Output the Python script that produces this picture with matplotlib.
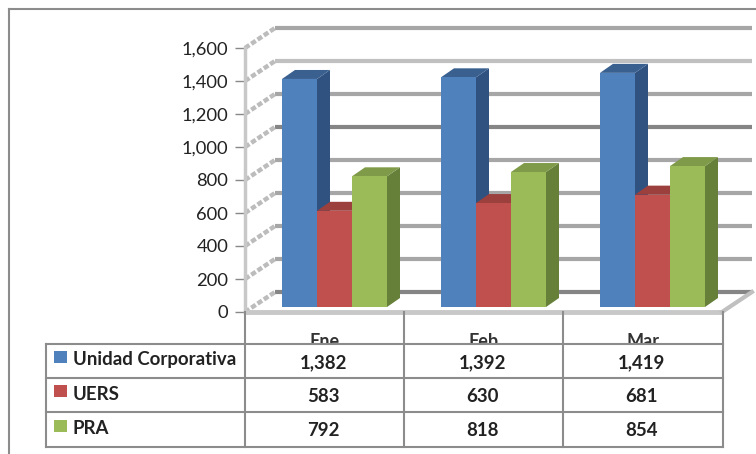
import matplotlib
matplotlib.use("Agg")
import matplotlib.pyplot as plt
from matplotlib.patches import Polygon, Rectangle

plt.rcParams['font.family'] = ['Lato', 'DejaVu Sans']

months = ["Ene", "Feb", "Mar"]
series_names = ["Unidad Corporativa", "UERS", "PRA"]
corporativa = [1382, 1392, 1419]
uers = [583, 630, 681]
pra = [792, 818, 854]
y_ticks = [0, 200, 400, 600, 800, 1000, 1200, 1400, 1600]
table_rows = [corporativa, uers, pra]

front = ["#4f81bd", "#c0504d", "#9bbb59"]
top = ["#3a6090", "#9c403e", "#7f9a48"]
side = ["#2f5280", "#8a3836", "#66803a"]
grid_cols = ["#858585", "#a6a6a6", "#a6a6a6", "#a6a6a6", "#a6a6a6", "#858585", "#a6a6a6", "#c0c0c0", "#a6a6a6"]

W, H = 756, 454
AX_L, AX_R, AX_T, AX_B = 245, 722, 48, 312
px_x = (AX_R - AX_L) / 3
px_y = (AX_B - AX_T) / 1600


def dx(p):
    return p / px_x


def dy(p):
    return p / px_y


fig = plt.figure(figsize=(W / 100, H / 100), dpi=100)
ax = fig.add_axes([AX_L / W, 1 - AX_B / H, (AX_R - AX_L) / W, (AX_B - AX_T) / H])
ax.set_xlim(0, 3)
ax.set_ylim(0, 1600)
ax.set_yticks(y_ticks)
ax.set_yticklabels([f"{v:,}" for v in y_ticks], fontsize=13.2, color="#222222")
ax.set_xticks([0.5, 1.5, 2.5])
ax.set_xticklabels(months, fontsize=13, fontweight="bold", color="#333333")
ax.tick_params(axis="y", length=7, width=1, color="#888888", pad=5)
ax.tick_params(axis="x", length=0, pad=15)
for s in ["top", "right", "bottom"]:
    ax.spines[s].set_visible(False)
ax.spines["left"].set_color("#c8c8c8")
ax.spines["left"].set_linewidth(2.5)

# back wall and floor
wall_x, wall_y = dx(30), dy(20)
for v, c in zip(y_ticks, grid_cols):
    ax.plot([wall_x, 3 + wall_x], [v + wall_y, v + wall_y], color=c, lw=3,
            clip_on=False, zorder=1, solid_capstyle="butt")
    ax.plot([0, wall_x], [v, v + wall_y], color="#bcbcbc", lw=3.2, ls=(0, (1.2, 0.5)),
            clip_on=False, zorder=1)
ax.plot([0, 3], [0, 0], color="#c8c8c8", lw=3.5, clip_on=False, zorder=2, solid_capstyle="butt")
ax.plot([3, 3 + wall_x], [0, wall_y], color="#c0c0c0", lw=3, clip_on=False, zorder=2)

# bars, drawn by hand because of the 3d look
bar_w = dx(35)
bar_start = dx(37)
depth_x, depth_y = dx(13), dy(9)
base = dy(5)
z = 3
for i in range(len(months)):
    for j, values in enumerate(table_rows):
        x0 = i + bar_start + j * bar_w
        x1 = x0 + bar_w
        v = values[i] + base
        ax.add_patch(Polygon([(x1, base), (x1 + depth_x, base + depth_y),
                              (x1 + depth_x, v + depth_y), (x1, v)],
                             fc=side[j], ec="none", zorder=z, clip_on=False))
        ax.add_patch(Polygon([(x0, v), (x0 + depth_x, v + depth_y),
                              (x1 + depth_x, v + depth_y), (x1, v)],
                             fc=top[j], ec="none", zorder=z, clip_on=False))
        ax.add_patch(Rectangle((x0, base), bar_w, values[i], fc=front[j], ec="none",
                               zorder=z, clip_on=False))
        z += 1

# overlay in pixels: outer frame and data table
ov = fig.add_axes([0, 0, 1, 1], zorder=5)
ov.set_xlim(0, W)
ov.set_ylim(H, 0)
ov.axis("off")
ov.patch.set_alpha(0)

line = "#8c8c8c"
ov.plot([9, 9], [9, H], color=line, lw=1.5)
ov.plot([9, W], [9, 9], color=line, lw=1.5)

col_x = [46, 245, 404, 563, 723]
row_y = [344, 378, 412, 447]
ov.add_patch(Rectangle((col_x[0], row_y[0]), col_x[-1] - col_x[0], row_y[-1] - row_y[0],
                       fc="white", ec="none"))
for x in col_x[1:]:
    ov.plot([x, x], [AX_B, row_y[-1]], color=line, lw=1.5)
ov.plot([col_x[0], col_x[0]], [row_y[0], row_y[-1]], color=line, lw=1.5)
for y in row_y:
    ov.plot([col_x[0], col_x[-1]], [y, y], color=line, lw=1.5)

for r, (name, values) in enumerate(zip(series_names, table_rows)):
    yc = (row_y[r] + row_y[r + 1]) / 2
    ov.add_patch(Rectangle((54, yc - 10), 13, 12, fc=front[r], ec="none"))
    ov.text(73, yc - 1, name, fontsize=13.4, fontweight="bold", va="center", color="#222222")
    for c, v in enumerate(values):
        ov.text((col_x[c + 1] + col_x[c + 2]) / 2 - 1, yc + 1.5, f"{v:,}", fontsize=13.4,
                fontweight="bold", ha="center", va="center", color="#222222")

fig.savefig("out.png", dpi=100)
